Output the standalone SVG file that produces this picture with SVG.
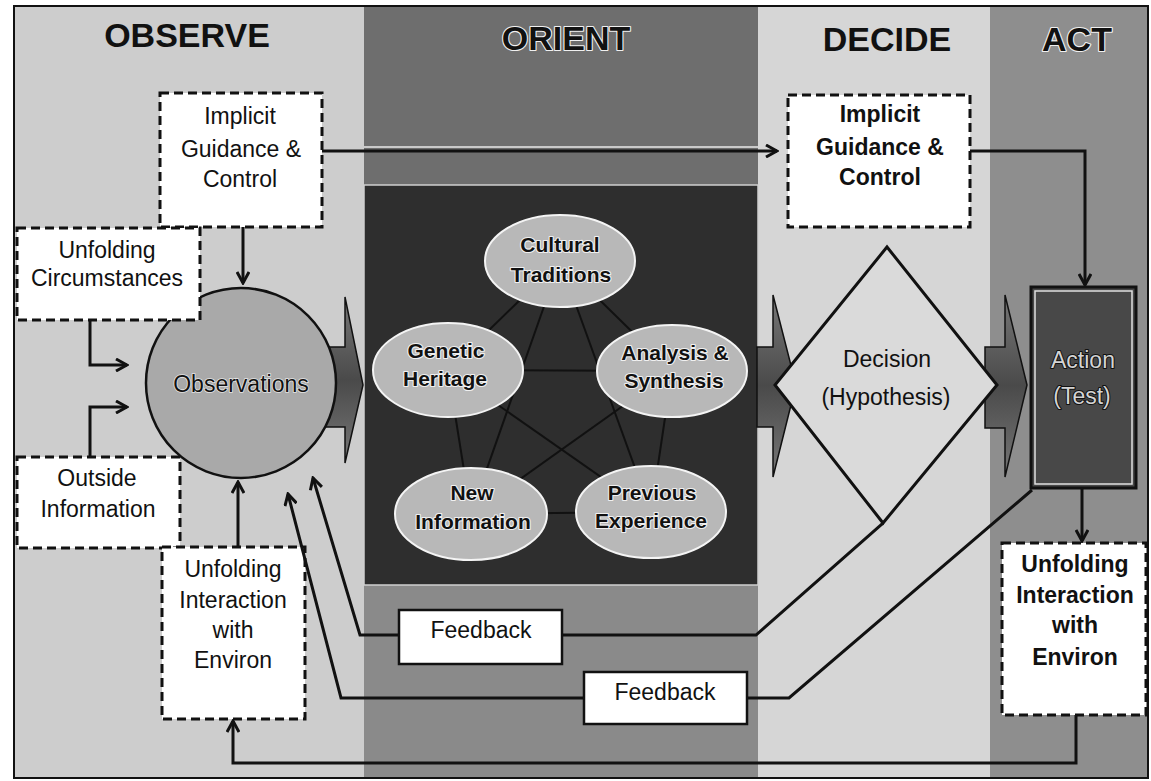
<svg xmlns="http://www.w3.org/2000/svg" width="1151" height="781" viewBox="0 0 1151 781">
<defs>
<marker id="ah" viewBox="0 0 14 14" markerWidth="14" markerHeight="14" refX="12" refY="7" orient="auto" markerUnits="userSpaceOnUse">
<path d="M1,1 L12,7 L1,13" fill="none" stroke="#111" stroke-width="3"/>
</marker>
<linearGradient id="barrow" x1="0" y1="0" x2="0" y2="1">
<stop offset="0" stop-color="#777"/><stop offset="0.5" stop-color="#4a4a4a"/><stop offset="1" stop-color="#777"/>
</linearGradient>
</defs>
<style>
.lbl{font-family:"Liberation Sans",Arial,sans-serif;font-size:23px;text-anchor:middle;fill:#111}
.b{font-weight:bold}
.hdr{font-weight:bold;font-size:34px}
.halo{stroke:#f0f0f0;stroke-width:2.2;paint-order:stroke;stroke-linejoin:round}
.dash{fill:#fff;stroke:#111;stroke-width:3;stroke-dasharray:9 5}
.conn{fill:none;stroke:#111;stroke-width:3}
.fbox{fill:#fff;stroke:#111;stroke-width:2.5}
.ell{fill:#b8b8b8;stroke:#f4f4f4;stroke-width:2}
.el{font-size:21px;font-weight:bold}
.k5{stroke:#111;stroke-width:2}
.barrow{fill:url(#barrow);stroke:#111;stroke-width:1.5}
.outl{fill:#d4d4d4;stroke:#111;stroke-width:2;paint-order:stroke;stroke-linejoin:round}
</style>
<rect width="1151" height="781" fill="#fff"/>
<g id="backgrounds">
<rect x="14" y="6" width="350" height="772" fill="#cdcdcd"/>
<rect x="364" y="6" width="394" height="772" fill="#6e6e6e"/>
<rect x="364" y="585" width="394" height="193" fill="#8a8a8a"/>
<rect x="758" y="6" width="232" height="772" fill="#d6d6d6"/>
<rect x="990" y="6" width="158" height="772" fill="#8e8e8e"/>
<line x1="364" y1="147" x2="758" y2="147" stroke="#e8e8e8" stroke-width="1.5"/>
<rect x="364" y="185" width="394" height="400" fill="#2e2e2e" stroke="#d0d0d0" stroke-width="1.5"/>
<rect x="14" y="6" width="1134" height="772" fill="none" stroke="#111" stroke-width="2"/>
</g>
<g id="headers">
<text class="lbl hdr" x="187" y="47" font-size="32">OBSERVE</text>
<text class="lbl hdr halo" x="566" y="50">ORIENT</text>
<text class="lbl hdr" x="887" y="51">DECIDE</text>
<text class="lbl hdr halo" x="1077" y="51">ACT</text>
</g>
<g id="block-arrows">
<polygon class="barrow" points="325,347 345,347 345,297 363,385 345,463 345,427 325,427"/>
<polygon class="barrow" points="757,347 773,347 773,295 796,385 773,477 773,427 757,427"/>
<polygon class="barrow" points="985,347 1005,347 1005,295 1027,385 1005,477 1005,428 985,428"/>
</g>
<g id="orient-links">
<line class="k5" x1="560" y1="261" x2="448" y2="370"/>
<line class="k5" x1="560" y1="261" x2="672" y2="371"/>
<line class="k5" x1="560" y1="261" x2="471" y2="514"/>
<line class="k5" x1="560" y1="261" x2="651" y2="512"/>
<line class="k5" x1="448" y1="370" x2="672" y2="371"/>
<line class="k5" x1="448" y1="370" x2="471" y2="514"/>
<line class="k5" x1="448" y1="370" x2="651" y2="512"/>
<line class="k5" x1="672" y1="371" x2="471" y2="514"/>
<line class="k5" x1="672" y1="371" x2="651" y2="512"/>
<line class="k5" x1="471" y1="514" x2="651" y2="512"/>
</g>
<g id="cultural">
<ellipse class="ell" cx="560" cy="261" rx="75" ry="46"/>
<text class="lbl el halo" x="560" y="252">Cultural</text>
<text class="lbl el halo" x="561" y="282">Traditions</text>
</g>
<g id="genetic">
<ellipse class="ell" cx="448" cy="370" rx="75" ry="47"/>
<text class="lbl el halo" x="446" y="358">Genetic</text>
<text class="lbl el halo" x="445" y="386">Heritage</text>
</g>
<g id="analysis">
<ellipse class="ell" cx="672" cy="371" rx="75" ry="46"/>
<text class="lbl el halo" x="675" y="360">Analysis &amp;</text>
<text class="lbl el halo" x="674" y="388">Synthesis</text>
</g>
<g id="newinfo">
<ellipse class="ell" cx="471" cy="514" rx="76" ry="46"/>
<text class="lbl el halo" x="472" y="500">New</text>
<text class="lbl el halo" x="473" y="529">Information</text>
</g>
<g id="previous">
<ellipse class="ell" cx="651" cy="512" rx="75" ry="46"/>
<text class="lbl el halo" x="652" y="500">Previous</text>
<text class="lbl el halo" x="651" y="528">Experience</text>
</g>
<g id="observations">
<circle cx="241" cy="383" r="95" fill="#a9a9a9" stroke="#111" stroke-width="2.5"/>
<text class="lbl" x="241" y="392" font-size="29" style="stroke:#e4e4e4;stroke-width:1.6;paint-order:stroke">Observations</text>
</g>
<g id="decision">
<polygon points="887,247 997,385 883,523 775,385" fill="#dadada" stroke="#111" stroke-width="3"/>
<text class="lbl" x="887" y="367" font-size="29">Decision</text>
<text class="lbl" x="886" y="405" font-size="29">(Hypothesis)</text>
</g>
<g id="action">
<rect x="1031" y="287" width="105" height="201" fill="#484848" stroke="#111" stroke-width="3"/>
<rect x="1035" y="291" width="97" height="193" fill="none" stroke="#e0e0e0" stroke-width="1.5"/>
<text class="lbl outl" x="1083" y="368" font-size="29">Action</text>
<text class="lbl outl" x="1082" y="404" font-size="29">(Test)</text>
</g>
<g id="implicit-left">
<rect class="dash" x="160" y="93" width="162" height="134"/>
<text class="lbl" x="240" y="124">Implicit</text>
<text class="lbl" x="241" y="157">Guidance &amp;</text>
<text class="lbl" x="240" y="187">Control</text>
</g>
<g id="implicit-right">
<rect class="dash" x="788" y="95" width="182" height="132"/>
<text class="lbl b" x="880" y="122" font-size="22">Implicit</text>
<text class="lbl b" x="880" y="155" font-size="22">Guidance &amp;</text>
<text class="lbl b" x="880" y="185" font-size="22">Control</text>
</g>
<g id="unfolding-circumstances">
<rect class="dash" x="17" y="228" width="183" height="92"/>
<text class="lbl" x="107" y="258">Unfolding</text>
<text class="lbl" x="107" y="286">Circumstances</text>
</g>
<g id="outside-information">
<rect class="dash" x="17" y="457" width="163" height="91"/>
<text class="lbl" x="97" y="486">Outside</text>
<text class="lbl" x="98" y="517">Information</text>
</g>
<g id="unfolding-interaction-left">
<rect class="dash" x="162" y="547" width="143" height="172"/>
<text class="lbl" x="233" y="577">Unfolding</text>
<text class="lbl" x="233" y="608">Interaction</text>
<text class="lbl" x="233" y="638">with</text>
<text class="lbl" x="233" y="668">Environ</text>
</g>
<g id="unfolding-interaction-right">
<rect class="dash" x="1002" y="543" width="144" height="172"/>
<text class="lbl b" x="1075" y="572">Unfolding</text>
<text class="lbl b" x="1075" y="603">Interaction</text>
<text class="lbl b" x="1075" y="633">with</text>
<text class="lbl b" x="1075" y="665">Environ</text>
</g>
<g id="feedback-1">
<rect class="fbox" x="399" y="610" width="163" height="54"/>
<text class="lbl" x="481" y="638">Feedback</text>
</g>
<g id="feedback-2">
<rect class="fbox" x="584" y="672" width="163" height="52"/>
<text class="lbl" x="665" y="700">Feedback</text>
</g>
<g id="connectors">
<path class="conn" d="M322,151 H777" marker-end="url(#ah)"/>
<path class="conn" d="M970,151 H1085 V285" marker-end="url(#ah)"/>
<path class="conn" d="M243,227 V283" marker-end="url(#ah)"/>
<path class="conn" d="M90,320 V365 H127" marker-end="url(#ah)"/>
<path class="conn" d="M90,457 V407 H127" marker-end="url(#ah)"/>
<path class="conn" d="M238,547 V482" marker-end="url(#ah)"/>
<path class="conn" d="M1082,488 V541" marker-end="url(#ah)"/>
<path class="conn" d="M883,523 L756,635 H562"/>
<path class="conn" d="M399,635 H360 L313,478" marker-end="url(#ah)"/>
<path class="conn" d="M1032,490 L789,698 H747"/>
<path class="conn" d="M584,698 H341 L288,494" marker-end="url(#ah)"/>
<path class="conn" d="M1076,715 V763 H233 V721" marker-end="url(#ah)"/>
</g>
</svg>
